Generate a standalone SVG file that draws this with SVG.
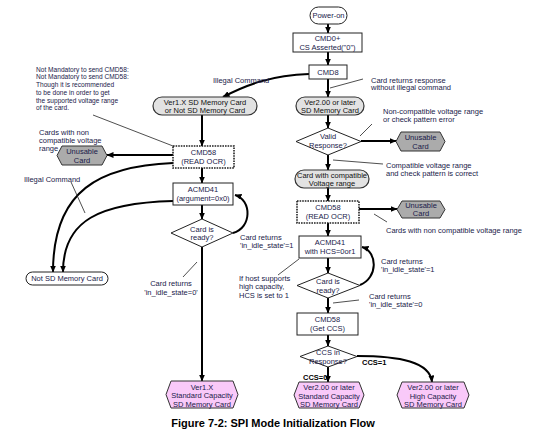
<svg xmlns="http://www.w3.org/2000/svg" width="554" height="434" viewBox="0 0 554 434">
<defs>
<marker id="ah" markerUnits="userSpaceOnUse" markerWidth="7" markerHeight="6" refX="6.5" refY="3" orient="auto"><path d="M0,0 L7,3 L0,6 z" fill="#000"/></marker>
</defs>
<style>
text{font-family:"Liberation Sans",Arial,sans-serif;font-size:7.5px;fill:#1a1a4a;text-anchor:middle}
.l{text-anchor:start}
.n{font-size:6.6px}
.b{font-weight:bold;fill:#000}
.box{fill:#fff;stroke:#222;stroke-width:1}
.dot{fill:#fff;stroke:#222;stroke-width:1.6;stroke-dasharray:1.6 1}
.gray{fill:#e2e2e2;stroke:#333;stroke-width:1.2}
.unus{fill:#ababab;stroke:#333;stroke-width:1}
.pink{fill:#f9c9f9;stroke:#333;stroke-width:1}
.fl{fill:none;stroke:#000;stroke-width:2;marker-end:url(#ah)}
.ld{fill:none;stroke:#222;stroke-width:0.8}
.t{fill:#111}
</style>
<rect width="554" height="434" fill="#fff"/>
<g id="connectors">
<path class="fl" d="M328,24 L328,33"/>
<path class="fl" d="M328,52 L328,65"/>
<path class="fl" d="M328,79 L328,97"/>
<path class="fl" d="M309,74 C272,75 246,85 223,97"/>
<path class="fl" d="M202,115 L202,146"/>
<path class="fl" d="M173,155 L107,155"/>
<path class="fl" d="M202,168 L202,183"/>
<path class="fl" d="M202,205 L202,219"/>
<path class="fl" d="M233,233 C252,228 252,200 235,195"/>
<path class="fl" d="M202,247 L202,381"/>
<path class="fl" d="M173,163 C100,166 53,190 53,272"/>
<path class="fl" d="M173,201 C100,203 63,220 63,272"/>
<path class="fl" d="M328,115 L328,128"/>
<path class="fl" d="M361,141 L396,141"/>
<path class="fl" d="M328,155 L328,170"/>
<path class="fl" d="M328,188 L328,201"/>
<path class="fl" d="M359,209 L397,209"/>
<path class="fl" d="M328,223 L328,236"/>
<path class="fl" d="M328,258 L328,273"/>
<path class="fl" d="M360,285 C378,278 378,252 362,247"/>
<path class="fl" d="M328,298 L328,313"/>
<path class="fl" d="M328,335 L328,346"/>
<path class="fl" d="M328,367 L328,382"/>
<path class="fl" d="M357,356 C400,356 430,362 432,382"/>
<path class="ld" d="M93,115 L173,146"/>
<path class="ld" d="M363,79 L330,88"/>
<path class="ld" d="M372,124 L360,136"/>
<path class="ld" d="M333,160 L383,164"/>
<path class="ld" d="M374,214 L387,222"/>
<path class="ld" d="M71,182 L85,213"/>
<path class="ld" d="M197,262 L183,277"/>
<path class="ld" d="M278,275 L299,259"/>
<path class="ld" d="M359,300 L333,303"/>
</g>
<g id="power-on"><rect class="box" x="310" y="7" width="37" height="17" rx="8.5"/><text x="328.5" y="18">Power-on</text></g>
<g id="cmd0"><rect class="box" x="293" y="33" width="69" height="19"/><text x="327.5" y="41">CMD0+</text><text x="327.5" y="49.5">CS Asserted("0")</text></g>
<g id="cmd8"><rect class="box" x="309" y="65" width="38" height="14"/><text x="328" y="74.5">CMD8</text></g>
<g id="ver1x"><rect class="gray" x="153" y="97" width="104" height="18" rx="9"/><text class="t" x="205" y="104.5">Ver1.X SD Memory Card</text><text class="t" x="205" y="112.5">or Not SD Memory Card</text></g>
<g id="ver2"><rect class="gray" x="296" y="97" width="68" height="18" rx="9"/><text class="t" x="330" y="104.5">Ver2.00 or later</text><text class="t" x="330" y="112.5">SD Memory Card</text></g>
<g id="cmd58-left"><rect class="dot" x="173" y="146" width="61" height="22"/><text x="203.5" y="155">CMD58</text><text x="203.5" y="164">(READ OCR)</text></g>
<g id="unusable-left"><polygon class="unus" points="62,146 102,146 107,155.5 102,165 62,165 57,155.5"/><text x="82" y="154">Unusable</text><text x="82" y="162.5">Card</text></g>
<g id="acmd41-left"><rect class="box" x="173" y="183" width="60" height="22"/><text x="203" y="192">ACMD41</text><text x="203" y="201">(argument=0x0)</text></g>
<g id="ready-left"><polygon class="box" points="202,219 233,233 202,247 171,233"/><text x="202" y="231.5">Card is</text><text x="202" y="240">ready?</text></g>
<g id="not-sd"><rect class="box" x="26" y="272" width="82" height="13" rx="6.5"/><text x="67" y="281">Not SD Memory Card</text></g>
<g id="ver1x-sc"><polygon class="pink" points="171,381 233,381 238,394.5 233,408 171,408 166,394.5"/><text x="202" y="389.5">Ver1.X</text><text x="202" y="398">Standard Capacity</text><text x="202" y="406.5">SD Memory Card</text></g>
<g id="valid"><polygon class="box" points="328,128 361,141.5 328,155 296,141.5"/><text x="328" y="139">Valid</text><text x="328" y="147.5">Response?</text></g>
<g id="unusable-r1"><polygon class="unus" points="401,132 440,132 445,141.5 440,151 401,151 396,141.5"/><text x="420.5" y="140">Unusable</text><text x="420.5" y="148.5">Card</text></g>
<g id="compat"><rect class="gray" x="295" y="170" width="74" height="18" rx="9"/><text class="t" x="332" y="177.5">Card with compatible</text><text class="t" x="332" y="185.5">Voltage range</text></g>
<g id="cmd58-right"><rect class="dot" x="297" y="201" width="62" height="22"/><text x="328" y="209.5">CMD58</text><text x="328" y="218.5">(READ OCR)</text></g>
<g id="unusable-r2"><polygon class="unus" points="402,201 440,201 445,209.5 440,218 402,218 397,209.5"/><text x="421" y="208">Unusable</text><text x="421" y="216">Card</text></g>
<g id="acmd41-right"><rect class="box" x="299" y="236" width="62" height="22"/><text x="330" y="245">ACMD41</text><text x="330" y="254">with HCS=0or1</text></g>
<g id="ready-right"><polygon class="box" points="328,273 360,285.5 328,298 297,285.5"/><text x="328" y="284">Card is</text><text x="328" y="292.5">ready?</text></g>
<g id="cmd58-ccs"><rect class="box" x="297" y="313" width="61" height="22"/><text x="327.5" y="322">CMD58</text><text x="327.5" y="331">(Get CCS)</text></g>
<g id="ccs"><polygon class="box" points="328,346 357,356.5 328,367 300,356.5"/><text x="328" y="355">CCS in</text><text x="328" y="363.5">Response?</text></g>
<g id="ver2-sc"><polygon class="pink" points="299,382 359,382 364,395 359,408 299,408 294,395"/><text x="329" y="390">Ver2.00 or later</text><text x="329" y="398.5">Standard Capacity</text><text x="329" y="407">SD Memory Card</text></g>
<g id="ver2-hc"><polygon class="pink" points="402,382 464,382 469,395 464,408 402,408 397,395"/><text x="433" y="390">Ver2.00 or later</text><text x="433" y="398.5">High Capacity</text><text x="433" y="407">SD Memory Card</text></g>
<g id="labels">
<text class="l n" x="36" y="71.5">Not Mandatory to send CMD58:</text>
<text class="l n" x="36" y="79">Not Mandatory to send CMD58:</text>
<text class="l n" x="36" y="87">Though it is recommended</text>
<text class="l n" x="36" y="95">to be done in order to get</text>
<text class="l n" x="36" y="102.5">the supported voltage range</text>
<text class="l n" x="36" y="110">of the card.</text>
<text class="l" x="39" y="134.5">Cards with non</text>
<text class="l" x="39" y="142.5">compatible voltage</text>
<text class="l" x="39" y="150.5">range</text>
<text class="l" x="213" y="83">Illegal Command</text>
<text class="l" x="24" y="182">Illegal Command</text>
<text class="l" x="371" y="82.5">Card returns response</text>
<text class="l" x="371" y="90">without illegal command</text>
<text class="l" x="383" y="113.5">Non-compatible voltage range</text>
<text class="l" x="383" y="121.5">or check pattern error</text>
<text class="l" x="386" y="167.5">Compatible voltage range</text>
<text class="l" x="386" y="175.5">and check pattern is correct</text>
<text class="l" x="386" y="232.5">Cards with non compatible voltage range</text>
<text class="l" x="240" y="240">Card returns</text>
<text class="l" x="240" y="248">'in_idle_state'=1</text>
<text class="l" x="381" y="263.5">Card returns</text>
<text class="l" x="381" y="271.5">'in_idle_state'=1</text>
<text class="l" x="239" y="280.5">If host supports</text>
<text class="l" x="239" y="289">high capacity,</text>
<text class="l" x="239" y="297.5">HCS is set to 1</text>
<text x="171" y="285.5">Card returns</text>
<text x="171" y="295">'in_idle_state=0'</text>
<text class="l" x="369" y="298.5">Card returns</text>
<text class="l" x="369" y="306.5">'in_idle_state'=0</text>
<text class="l b" x="362" y="364.5">CCS=1</text>
<text class="l b" x="303" y="379.5">CCS=0</text>
<text class="b" x="273" y="427" style="font-size:11px">Figure 7-2: SPI Mode Initialization Flow</text>
</g>
</svg>
